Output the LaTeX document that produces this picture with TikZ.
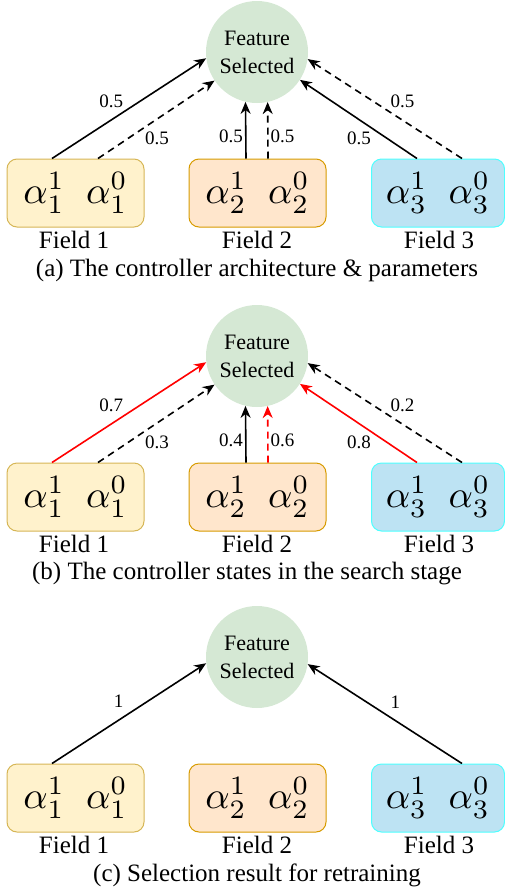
\documentclass[tikz,border=0pt]{standalone}
\usepackage{graphicx}
\usepackage{fontspec}
\setmainfont{Liberation Serif}
\usetikzlibrary{arrows.meta}
\definecolor{fsgreen}{HTML}{D5E8D4}
\definecolor{yfill}{HTML}{FFF2CC}
\definecolor{yline}{HTML}{D6B656}
\definecolor{ofill}{HTML}{FFE6CC}
\definecolor{oline}{HTML}{D79B00}
\definecolor{bfill}{HTML}{BDE3F3}
\definecolor{bline}{HTML}{4DFFFF}
\definecolor{hot}{HTML}{FF0000}
\newcommand\alphapair[1]{\scalebox{3.8}{$\alpha_{#1}^1\hspace{5.6pt}\alpha_{#1}^0$}}
\tikzset{
 fsnode/.style={circle, fill=fsgreen, minimum size=102pt, inner sep=0pt, align=center, font=\fontsize{22}{28}\selectfont},
 fieldbox/.style={rounded corners=10pt, line width=1pt, minimum height=68pt, inner sep=0pt, font=\fontsize{10}{12}\selectfont},
 fieldlbl/.style={font=\fontsize{25}{28}\selectfont, inner sep=0pt},
 caplbl/.style={font=\fontsize{25}{28}\selectfont, inner sep=0pt},
 wlbl/.style={font=\fontsize{19}{20}\selectfont, inner sep=2pt},
 conn/.style={line width=1.6pt, -{Stealth[length=12pt,width=10pt]}},
 dconn/.style={conn, dash pattern=on 7pt off 5pt},
}
\newcommand\fsPanel[3]{%
 \node[fsnode] (#1fs) at (257,52) {Feature\\Selected};
 \node[fieldbox, minimum width=137pt, fill=yfill, draw=yline] (#1b1) at (75.5,193) {\alphapair{1}};
 \node[fieldbox, minimum width=137pt, fill=ofill, draw=oline] (#1b2) at (257.5,193) {\alphapair{2}};
 \node[fieldbox, minimum width=133pt, fill=bfill, draw=bline] (#1b3) at (438,193) {\alphapair{3}};
 \node[fieldlbl] (#1l1) at (74,240) {Field 1};
 \node[fieldlbl] (#1l2) at (257,240) {Field 2};
 \node[fieldlbl] (#1l3) at (439,240) {Field 3};
 \node[caplbl] (#1cap) at (#3,270) {#2};
}
\begin{document}
\begin{tikzpicture}[x=1pt,y=-1pt]
\useasboundingbox (0,0) rectangle (505,892);
% ---------- panel a
\fsPanel{a}{(a) The controller architecture \& parameters}{257}
\draw[conn] ([xshift=-23.5pt]ab1.north) -- (afs.187.5) node[wlbl, pos=0.48, anchor=south east]{0.5};
\draw[dconn] ([xshift=22.5pt]ab1.north) -- (afs.214) node[wlbl, pos=0.38, anchor=north west]{0.5};
\draw[conn] ([xshift=-11.5pt]ab2.north) -- (afs.257.8) node[wlbl, pos=0.4, left]{0.5};
\draw[dconn] ([xshift=10.5pt]ab2.north) -- (afs.282.2) node[wlbl, pos=0.4, right]{0.5};
\draw[conn] ([xshift=-21pt]ab3.north) -- (afs.327) node[wlbl, pos=0.37, anchor=north east]{0.5};
\draw[dconn] ([xshift=24pt]ab3.north) -- (afs.352) node[wlbl, pos=0.48, anchor=south west]{0.5};
% ---------- panel b
\begin{scope}[yshift=-304pt]
\fsPanel{b}{(b) The controller states in the search stage}{247}
\draw[conn, hot] ([xshift=-23.5pt]bb1.north) -- (bfs.187.5) node[wlbl, black, pos=0.48, anchor=south east]{0.7};
\draw[dconn] ([xshift=22.5pt]bb1.north) -- (bfs.214) node[wlbl, pos=0.38, anchor=north west]{0.3};
\draw[conn] ([xshift=-11.5pt]bb2.north) -- (bfs.257.8) node[wlbl, pos=0.4, left]{0.4};
\draw[dconn, hot] ([xshift=10.5pt]bb2.north) -- (bfs.282.2) node[wlbl, black, pos=0.4, right]{0.6};
\draw[conn, hot] ([xshift=-21pt]bb3.north) -- (bfs.327) node[wlbl, black, pos=0.37, anchor=north east]{0.8};
\draw[dconn] ([xshift=24pt]bb3.north) -- (bfs.352) node[wlbl, pos=0.48, anchor=south west]{0.2};
\end{scope}
% ---------- panel c
\begin{scope}[yshift=-605pt]
\fsPanel{c}{(c) Selection result for retraining}{257}
\draw[conn] ([xshift=-23.5pt]cb1.north) -- (cfs.187.5) node[wlbl, pos=0.5, anchor=south east, inner sep=5pt]{1};
\draw[conn] ([xshift=24pt]cb3.north) -- (cfs.352) node[wlbl, pos=0.5, anchor=south west, inner sep=5pt]{1};
\end{scope}
\end{tikzpicture}
\end{document}
